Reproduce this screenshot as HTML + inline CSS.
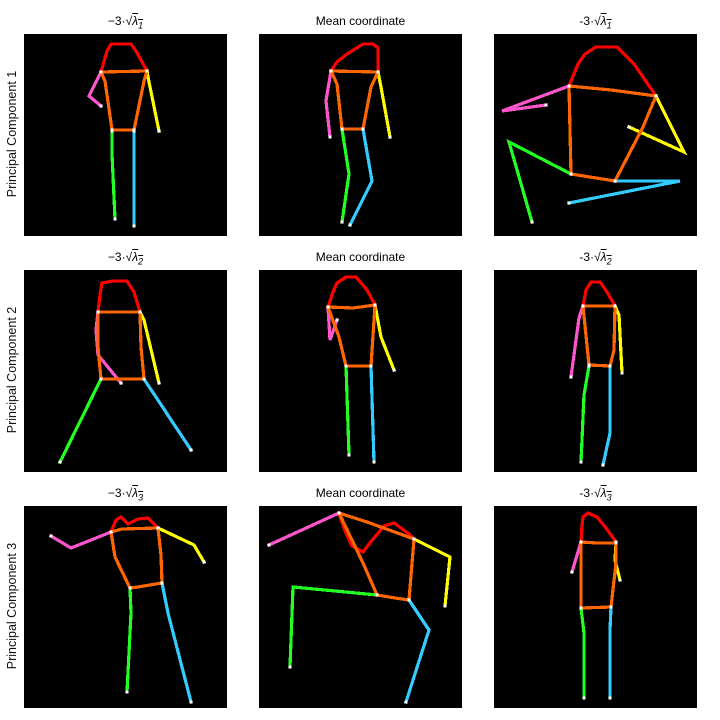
<!DOCTYPE html>
<html><head><meta charset="utf-8">
<style>
body{margin:0;background:#fff;font-family:"Liberation Sans","DejaVu Sans",sans-serif;}
#root{position:relative;width:720px;height:720px;overflow:hidden;}
.ttl{position:absolute;width:203px;text-align:center;font-size:12px;color:#000;}
.ttl .ov{text-decoration:overline;font-style:italic;}
.ylab{position:absolute;font-size:12.5px;color:#111;transform:rotate(-90deg);transform-origin:center;white-space:nowrap;width:200px;text-align:center;}
svg{position:absolute;}
</style></head><body>
<div id="root"></div>
<script>
// panel layout (pixel)
const colX=[24,259,494], rowY=[34,270,506], PW=203, PH=202;
// titles / labels data
const colTitles=['neg','mean','pos'];
const rowLabels=['Principal Component 1','Principal Component 2','Principal Component 3'];
// skeleton data in panel data units (0..203 x, 0..202 y), per panel: limbs
// panel order: row-major
const heads=[
 [[77,38],[83,17],[87,10],[107,10],[112,17],[123,37]],
 [[72,37],[78,28],[88,20],[104,10],[114,10],[119,14],[119,38]],
 [[75,52],[84,30],[91,20],[102,13],[123,13],[140,30],[162,62]],
 [[74,42],[76,25],[78,13],[89,11],[103,11],[110,22],[116,42]],
 [[69,37],[74,22],[78,13],[87,7],[97,7],[108,20],[116,35]],
 [[89,36],[92,20],[97,12],[106,12],[113,22],[121,36]],
 [[87,26],[92,14],[97,11],[104,18],[114,13],[124,12],[134,22]],
 [[80,7],[86,25],[93,40],[104,46],[110,38],[125,20],[135,17],[150,28],[155,33]],
 [[87,36],[88,20],[89,11],[94,7],[103,11],[112,22],[122,36]]
];
const shoulders=[
 [[77,38],[123,37]],[[72,37],[119,38]],[[75,52],[117,56],[162,62]],
 [[74,42],[116,42]],[[69,37],[94,38],[116,35]],[[89,36],[121,36]],
 [[87,26],[98,23],[134,22]],[[80,7],[108,16],[155,33]],[[87,36],[103,37],[122,37]]
];
const torsoL=[
 [[77,38],[81,47],[88,96]],[[72,37],[78,50],[83,95]],[[75,52],[77,140]],
 [[74,42],[74,77],[77,109]],[[69,37],[80,67],[87,96]],[[89,36],[95,95]],
 [[87,26],[91,51],[106,82]],[[80,7],[104,57],[118,89]],[[87,36],[87,102]]
];
const torsoR=[
 [[123,37],[120,47],[110,96]],[[119,38],[112,53],[104,95]],[[162,62],[149,93],[121,147]],
 [[116,42],[117,77],[120,109]],[[116,35],[112,96]],[[121,36],[120,80],[116,96]],
 [[134,22],[137,49],[138,77]],[[155,33],[150,94]],[[122,37],[122,57],[117,101]]
];
const hips=[
 [[88,96],[110,96]],[[83,95],[104,95]],[[77,140],[121,147]],
 [[77,109],[120,109]],[[87,96],[112,96]],[[95,95],[116,96]],
 [[106,82],[114,81],[138,77]],[[118,89],[136,92],[150,94]],[[87,102],[117,101]]
];
const armsL=[
 [[77,38],[65,62],[77,72]],[[72,37],[67,67],[71,103]],[[75,52],[8,77],[52,71]],
 [[74,42],[72,60],[74,85],[97,113]],[[69,37],[71,70],[78,50]],[[89,36],[85,48],[77,107]],
 [[87,26],[47,42],[27,30]],[[80,7],[10,39]],[[87,36],[84,46],[78,66]]
];
const armsR=[
 [[123,37],[124,43],[135,97]],[[119,38],[122,53],[131,103]],[[162,62],[190,118],[135,93]],
 [[116,42],[120,50],[135,113]],[[116,35],[122,67],[135,100]],[[121,36],[125,45],[128,103]],
 [[134,22],[170,39],[180,56]],[[155,33],[191,51],[186,100]],[[122,37],[121,54],[126,74]]
];
const legsL=[
 [[88,97],[88,120],[91,185]],[[83,95],[90,140],[83,188]],[[77,140],[15,108],[38,188]],
 [[77,109],[36,192]],[[87,96],[90,185]],[[95,96],[90,125],[87,192]],
 [[106,82],[107,107],[103,186]],[[118,89],[34,81],[31,161]],[[87,102],[90,127],[90,192]]
];
const legsR=[
 [[110,97],[110,192]],[[104,95],[113,147],[91,191]],[[121,147],[186,147],[75,169]],
 [[120,109],[167,180]],[[112,96],[115,192]],[[116,96],[116,163],[109,195]],
 [[138,77],[144,107],[167,196]],[[150,94],[170,124],[147,196]],[[117,101],[116,124],[116,192]]
];
const limbs=[['head',heads,'#ff0000'],['left-arm',armsL,'#ff55cc'],['right-arm',armsR,'#ffff00'],
 ['left-leg',legsL,'#22ff22'],['right-leg',legsR,'#33ccff'],['shoulders',shoulders,'#ff6600'],
 ['torso-left',torsoL,'#ff6600'],['torso-right',torsoR,'#ff6600'],['hips',hips,'#ff6600']];

const NS='http://www.w3.org/2000/svg';
const root=document.getElementById('root');
function xs(v){return v*PW/203;}
function ys(v){return v*PH/202;}

for(let r=0;r<3;r++){
  const yl=document.createElement('div');
  yl.className='ylab';
  
  
  yl.textContent=rowLabels[r];
  yl.style.left=(12-100)+'px';yl.style.top=(rowY[r]+PH/2-8)+'px';
  root.appendChild(yl);
  for(let c=0;c<3;c++){
    const t=document.createElement('div');
    t.className='ttl';
    
    
    t.style.left=colX[c]+'px';t.style.top=(rowY[r]-20)+'px';
    const k=r+1;
    if(colTitles[c]==='mean') t.textContent='Mean coordinate';
    else t.innerHTML=(colTitles[c]==='neg'?'−3·√':'-3·√')+'<span class="ov">λ<sub style="font-size:9px">'+k+'</sub></span>';
    root.appendChild(t);
    const i=r*3+c;
    const svg=document.createElementNS(NS,'svg');
    
    
    svg.setAttribute('width',PW);svg.setAttribute('height',PH);
    svg.style.left=colX[c]+'px';svg.style.top=rowY[r]+'px';
    const bg=document.createElementNS(NS,'rect');
    
    
    bg.setAttribute('width',PW);bg.setAttribute('height',PH);bg.setAttribute('fill','#000');
    svg.appendChild(bg);
    const joints=[];
    limbs.forEach(([nm,arr,col])=>{
      const pts=arr[i];
      const pl=document.createElementNS(NS,'polyline');
      
      
      pl.setAttribute('points',pts.map(p=>xs(p[0])+','+ys(p[1])).join(' '));
      pl.setAttribute('fill','none');pl.setAttribute('stroke',col);
      pl.setAttribute('stroke-width','3.2');pl.setAttribute('stroke-linecap','square');
      pl.setAttribute('shape-rendering','crispEdges');
      svg.appendChild(pl);
      joints.push(pts[0],pts[pts.length-1]);
    });
    joints.forEach(p=>{
      const d=document.createElementNS(NS,'rect');
      
      
      d.setAttribute('x',xs(p[0])-1.5);d.setAttribute('y',ys(p[1])-1.5);
      d.setAttribute('width',3);d.setAttribute('height',3);d.setAttribute('fill','#fff');
      svg.appendChild(d);
    });
    root.appendChild(svg);
  }
}
</script>
</body></html>
